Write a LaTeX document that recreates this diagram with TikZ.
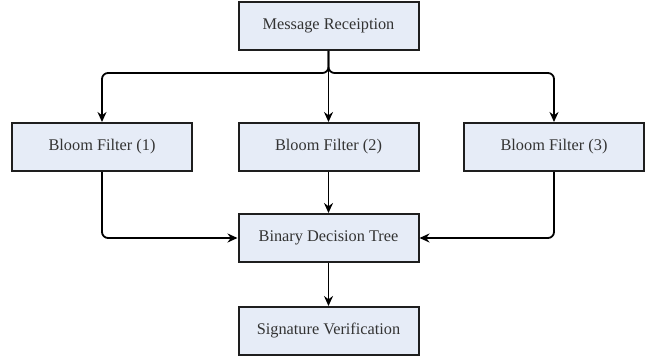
\documentclass[tikz,border=0pt]{standalone}
\usepackage{fontspec}
\setmainfont{Liberation Serif}
\usetikzlibrary{arrows.meta}
\definecolor{boxfill}{HTML}{E6ECF7}
\definecolor{boxline}{HTML}{1E1E1E}
\definecolor{txt}{HTML}{333333}
\tikzset{
  blk/.style={draw=boxline, fill=boxfill, line width=2pt, minimum width=180pt, minimum height=48pt, inner sep=0pt,
    font=\fontsize{16.3}{19}\selectfont, text=txt},
  conn/.style={draw=black, line width=1.8pt, rounded corners=6pt, -{Stealth[length=10pt,width=9pt]}}
}
\begin{document}
\begin{tikzpicture}[x=1pt,y=-1pt]
\useasboundingbox (0,0) rectangle (651,358);
\node[blk] (msg) at (328.5,26) {Message Receiption};
\node[blk] (bf1) at (102,147) {Bloom Filter (1)};
\node[blk] (bf2) at (328.5,147) {Bloom Filter (2)};
\node[blk] (bf3) at (554,147) {Bloom Filter (3)};
\node[blk] (bdt) at (328.5,238) {Binary Decision Tree};
\node[blk] (sv) at (328.5,331) {Signature Verification};
\coordinate (j) at (328.5,73);
\draw[conn] (msg.south) -- (bf2.north);
\draw[conn] (msg.south) -- (j) -| (bf1.north);
\draw[conn] (msg.south) -- (j) -| (bf3.north);
\draw[conn] (bf1.south) |- (bdt.west);
\draw[conn] (bf3.south) |- (bdt.east);
\draw[conn] (bf2.south) -- (bdt.north);
\draw[conn] (bdt.south) -- (sv.north);
\end{tikzpicture}
\end{document}
